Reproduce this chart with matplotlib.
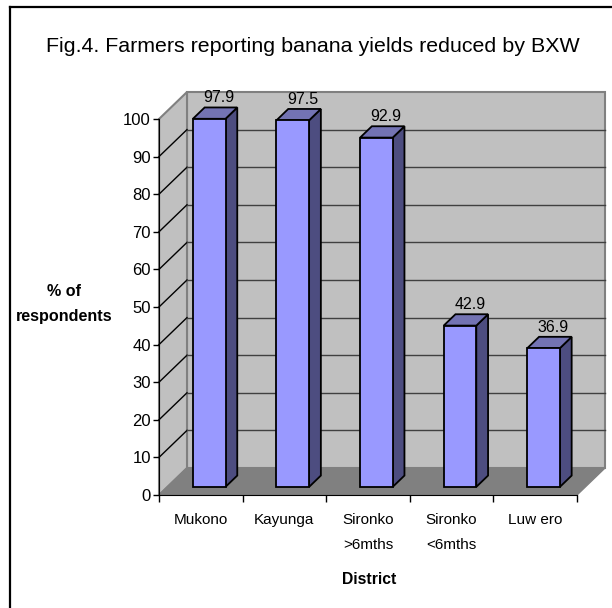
import matplotlib
matplotlib.use('Agg')
import matplotlib.pyplot as plt
from matplotlib.lines import Line2D
from matplotlib.patches import Polygon

plt.rcParams['font.family'] = ['Liberation Sans', 'DejaVu Sans']

districts = ['Mukono', 'Kayunga', 'Sironko\n>6mths', 'Sironko\n<6mths', 'Luw ero']
yields_pct = [97.9, 97.5, 92.9, 42.9, 36.9]
y_ticks = list(range(0, 101, 10))

W, H = 612, 608
# front plane of the fake 3D box, in pixels
LEFT, RIGHT, BOTTOM, TOP = 159, 577, 495, 119
# depth of the box in data units
DX = 28 / ((RIGHT - LEFT) / 5)
DY = 27 / ((BOTTOM - TOP) / 100)

BAR_WIDTH = 0.39
BAR_NEAR = 0.30
BAR_FAR = 0.72


def shift(x, y, d):
    # move a point back into the box, d=0 front, d=1 back wall
    return (x + DX * d, y + DY * d)


fig = plt.figure(figsize=(W / 100, H / 100), dpi=100, facecolor='white')

# the frame only shows on the top and left, the rest is cropped away
fig.add_artist(Line2D([10 / W, 10 / W], [0, 1 - 7 / H], color='black', linewidth=1.6))
fig.add_artist(Line2D([10 / W, 1], [1 - 7 / H, 1 - 7 / H], color='black', linewidth=1.6))

ax = fig.add_axes([LEFT / W, 1 - BOTTOM / H, (RIGHT - LEFT) / W, (BOTTOM - TOP) / H])
ax.set_xlim(0, len(districts))
ax.set_ylim(0, 100)
ax.patch.set_visible(False)
for side in ['top', 'right']:
    ax.spines[side].set_visible(False)

# walls and floor
n = len(districts)
wall_grey = '#808080'
ax.add_patch(Polygon([shift(0, 0, 1), shift(n, 0, 1), shift(n, 100, 1), shift(0, 100, 1)],
                     facecolor='#c0c0c0', edgecolor=wall_grey, linewidth=1.5, clip_on=False, zorder=1))
ax.add_patch(Polygon([(0, 0), shift(0, 0, 1), shift(0, 100, 1), (0, 100)],
                     facecolor='#c0c0c0', edgecolor=wall_grey, linewidth=1.5, clip_on=False, zorder=1))
ax.add_patch(Polygon([(0, 0), (n, 0), shift(n, 0, 1), shift(0, 0, 1)],
                     facecolor=wall_grey, edgecolor=wall_grey, linewidth=1, clip_on=False, zorder=1))

# gridlines on the side wall and back wall
for t in y_ticks[1:-1]:
    a, b, c = (0, t), shift(0, t, 1), shift(n, t, 1)
    ax.plot([a[0], b[0]], [a[1], b[1]], color='black', linewidth=1, clip_on=False, zorder=2)
    ax.plot([b[0], c[0]], [b[1], c[1]], color='#404040', linewidth=1, clip_on=False, zorder=2)

# bars
for i, v in enumerate(yields_pct):
    x0 = i + 0.5 - BAR_WIDTH / 2
    x1 = i + 0.5 + BAR_WIDTH / 2
    fl, bl = shift(x0, 0, BAR_NEAR), shift(x0, v, BAR_NEAR)
    fr, tr = shift(x1, 0, BAR_NEAR), shift(x1, v, BAR_NEAR)
    br, btr = shift(x1, 0, BAR_FAR), shift(x1, v, BAR_FAR)
    btl = shift(x0, v, BAR_FAR)
    ax.add_patch(Polygon([fr, br, btr, tr], facecolor='#4d4d80', edgecolor='black',
                         linewidth=1.3, clip_on=False, zorder=3))
    ax.add_patch(Polygon([bl, tr, btr, btl], facecolor='#7373b3', edgecolor='black',
                         linewidth=1.3, clip_on=False, zorder=3))
    ax.add_patch(Polygon([fl, fr, tr, bl], facecolor='#9999ff', edgecolor='black',
                         linewidth=1.3, clip_on=False, zorder=4))
    lx, ly = shift(i + 0.5, v, BAR_FAR)
    ax.annotate(f'{v}', (lx, ly), xytext=(-2, 2), textcoords='offset pixels', ha='center', va='bottom',
                fontsize=11.5, annotation_clip=False, zorder=5)

ax.set_yticks(y_ticks)
ax.set_xticks(range(n + 1))
ax.set_xticklabels([])
ax.tick_params(axis='y', labelsize=12, length=4.3, width=1, pad=1.5)
ax.tick_params(axis='x', length=4.8, width=1)
for i, name in enumerate(districts):
    ax.annotate(name, (i + 0.5, 0), xytext=(0, -13), textcoords='offset points', ha='center', va='top',
                fontsize=11, linespacing=2.0, annotation_clip=False)

fig.text(313 / W, 1 - 46 / H, 'Fig.4. Farmers reporting banana yields reduced by BXW',
         ha='center', va='center', fontsize=15.4)
fig.text(64 / W, 1 - 304 / H, '% of\nrespondents', ha='center', va='center',
         fontsize=11.6, fontweight='bold', linespacing=1.8)
fig.text(369 / W, 1 - 579 / H, 'District', ha='center', va='center', fontsize=11.3, fontweight='bold')

fig.savefig('out.png', dpi=100)
